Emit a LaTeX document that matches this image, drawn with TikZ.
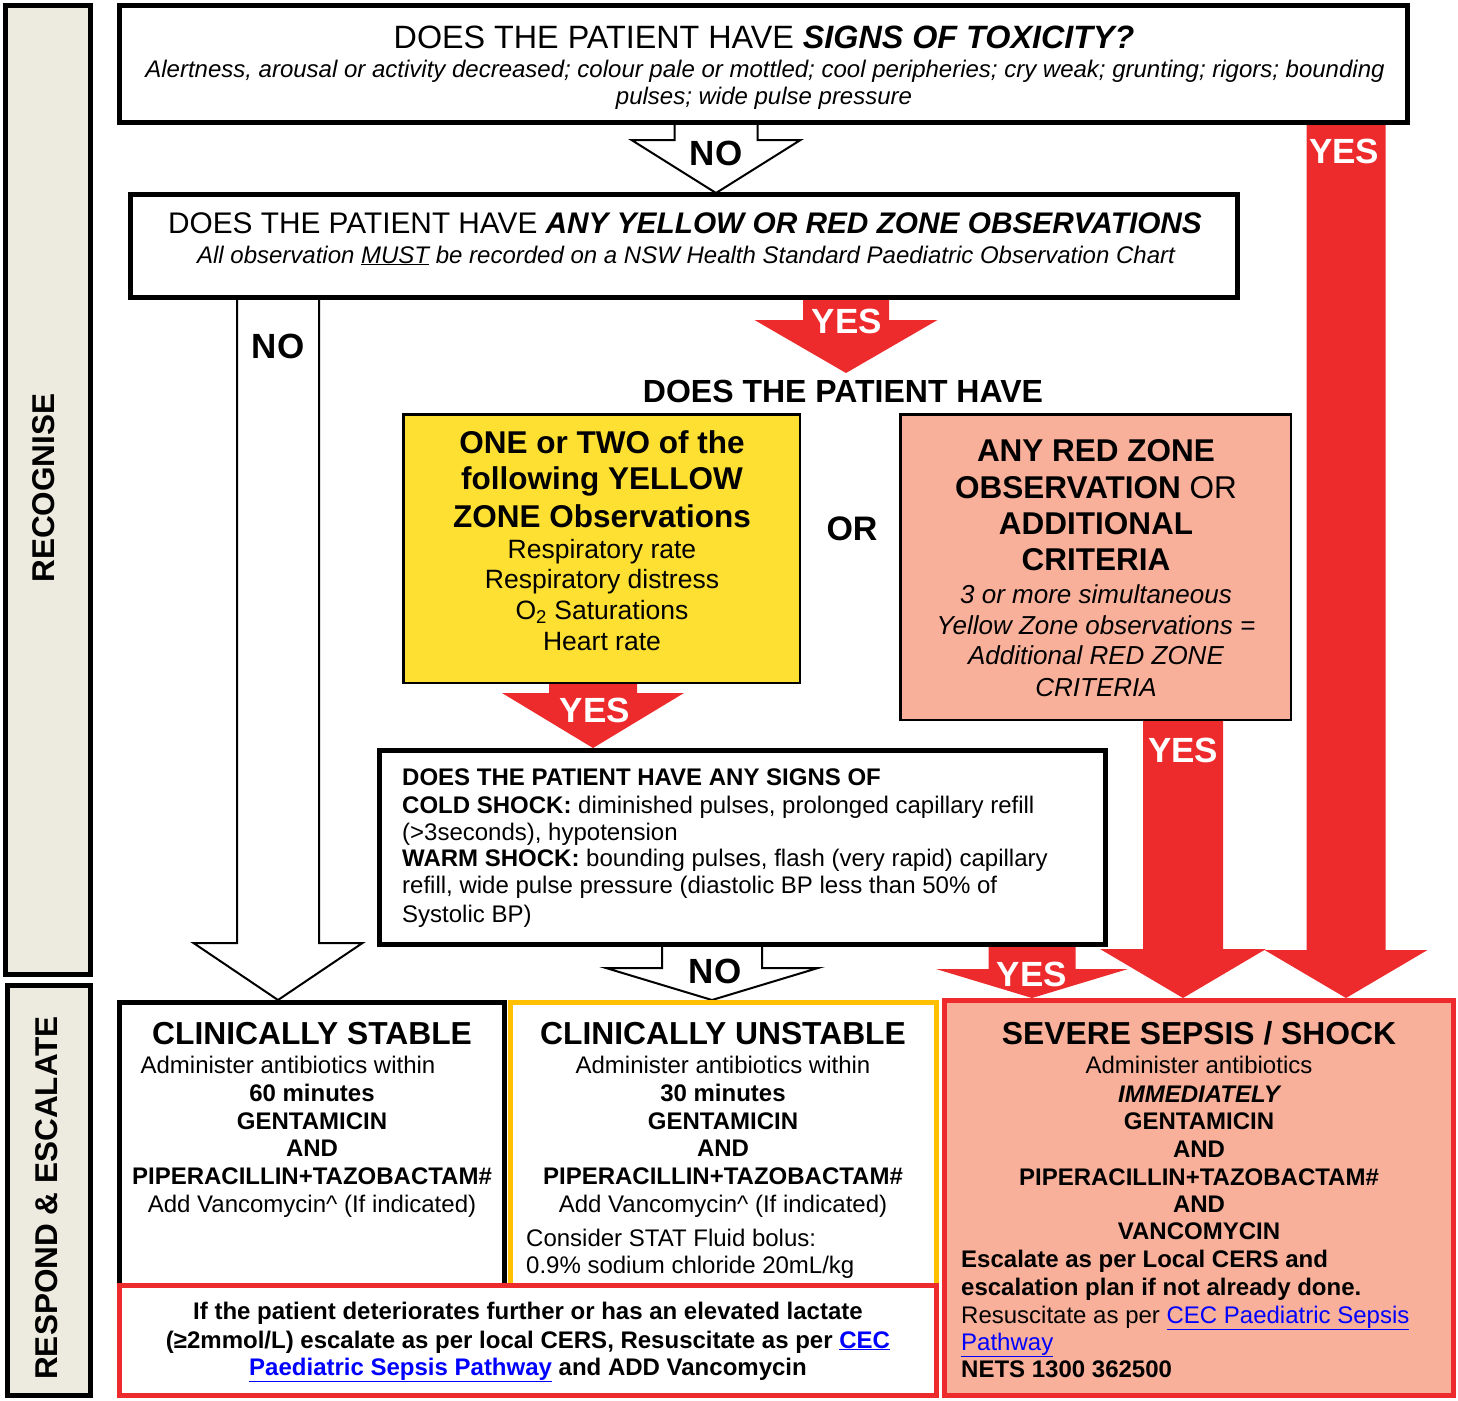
\documentclass[tikz,border=0pt]{standalone}
\usepackage{fontspec}
\setmainfont{Liberation Sans}
\definecolor{sidebeige}{RGB}{237,235,224}
\definecolor{alarmred}{RGB}{238,43,44}
\definecolor{zoneyellow}{RGB}{254,224,50}
\definecolor{zonesalmon}{RGB}{248,176,154}
\definecolor{unstableorange}{RGB}{255,192,0}
\definecolor{linkblue}{RGB}{0,0,255}
\newcommand{\fsz}[1]{\fontsize{#1}{#1}\selectfont}
\newcommand{\lnk}[1]{{\color{linkblue}\underline{#1}}}
\newcommand{\txtline}[5]{\node[#1] (#2) at (#3,#4) {#5};}
% style, x centre, y top, y head base, y tip, shaft half width, head half width
\newcommand{\blockarrow}[7]{%
  \path[#1] (#2-#6,#3) -- (#2-#6,#4) -- (#2-#7,#4) -- (#2,#5) -- (#2+#7,#4) -- (#2+#6,#4) -- (#2+#6,#3);}
\tikzset{
  box/.style={draw=black, line width=5pt, fill=white, inner sep=0pt},
  thinbox/.style={draw=black, line width=2.5pt, inner sep=0pt},
  sidebox/.style={draw=black, line width=5pt, fill=sidebeige, inner sep=0pt},
  tc/.style={anchor=base, inner sep=0pt},
  tw/.style={anchor=base west, inner sep=0pt},
  noarrow/.style={draw=black, line width=2pt, fill=white},
  yesarrow/.style={fill=alarmred},
  yeslbl/.style={anchor=base, inner sep=0pt, text=white, font=\fsz{35}\bfseries},
  nolbl/.style={anchor=base, inner sep=0pt, font=\fsz{35}\bfseries},
  sidelbl/.style={rotate=90, inner sep=0pt, font=\fsz{31.5}\bfseries},
}
\begin{document}
\begin{tikzpicture}[x=1pt,y=-1pt]
\useasboundingbox (0,0) rectangle (1458,1400);

% ---- side bars
\node[sidebox, minimum width=85pt, minimum height=969pt] (recog) at (48,490) {};
\node[sidebox, minimum width=83pt, minimum height=410pt] (respond) at (49,1190.5) {};
\node[sidelbl] (recogtxt) at (44,488) {RECOGNISE};
\node[sidelbl] (resptxt) at (47,1198) {RESPOND \& ESCALATE};

% ---- block arrows
\blockarrow{noarrow}{716}{123}{140}{193}{41.5}{84.5}
\blockarrow{noarrow}{278}{298}{943}{1000}{41}{84.5}
\blockarrow{noarrow}{712}{945}{968}{1000}{50}{106}
\blockarrow{yesarrow}{1346}{123}{950}{998}{39.5}{81.5}
\blockarrow{yesarrow}{846}{298}{320}{373}{43}{91.5}
\blockarrow{yesarrow}{593}{684}{693}{748}{44}{91}
\blockarrow{yesarrow}{1183}{719}{949}{998}{40}{83}
\blockarrow{yesarrow}{1032}{945}{969}{998}{43.5}{96}

% ---- boxes
\node[box, minimum width=1288pt, minimum height=117pt] (tox) at (763.5,64) {};
\node[box, minimum width=1107pt, minimum height=103pt] (obs) at (684,246) {};
\node[thinbox, fill=zoneyellow, minimum width=396.5pt, minimum height=268.5pt] (yellow) at (601.5,548.5) {};
\node[thinbox, fill=zonesalmon, minimum width=390.5pt, minimum height=305.5pt] (redzone) at (1095.5,567) {};
\node[box, minimum width=726pt, minimum height=194pt] (shock) at (742.5,847.5) {};
\node[box, minimum width=385pt, minimum height=285pt] (stable) at (312,1145) {};
\node[box, draw=unstableorange, minimum width=426pt, minimum height=285pt] (unstable) at (723.5,1145) {};
\node[box, draw=alarmred, minimum width=817pt, minimum height=110pt] (deteriorate) at (528,1340.5) {};
\node[box, draw=alarmred, fill=zonesalmon, minimum width=509pt, minimum height=395pt] (severe) at (1198.5,1198) {};

% ---- arrow labels
\node[nolbl] (no1) at (716,165) {NO};
\node[nolbl] (no2) at (278,358) {NO};
\node[nolbl] (no3) at (715,983) {NO};
\node[yeslbl] (yes1) at (1344,163) {YES};
\node[yeslbl] (yes2) at (847,333) {YES};
\node[yeslbl] (yes3) at (595,722) {YES};
\node[yeslbl] (yes4) at (1183,762) {YES};
\node[yeslbl] (yes5) at (1032,986) {YES};

% ---- toxicity box
\txtline{tc,font=\fsz{32.3}}{toxA}{764}{48}{DOES THE PATIENT HAVE \textbf{\textit{SIGNS OF TOXICITY?}}}
\txtline{tc,font=\fsz{24}\itshape}{toxB}{765}{77}{Alertness, arousal or activity decreased; colour pale or mottled; cool peripheries; cry weak; grunting; rigors; bounding}
\txtline{tc,font=\fsz{24}\itshape}{toxC}{764}{104}{pulses; wide pulse pressure}

% ---- observations box
\txtline{tc,font=\fsz{29.8}}{obsA}{685}{233}{DOES THE PATIENT HAVE \textbf{\textit{ANY YELLOW OR RED ZONE OBSERVATIONS}}}
\txtline{tc,font=\fsz{24}\itshape}{obsB}{686}{263}{All observation \underline{MUST} be recorded on a NSW Health Standard Paediatric Observation Chart}

\txtline{tc,font=\fsz{32}\bfseries}{haveq}{843}{402}{DOES THE PATIENT HAVE}
\txtline{tc,font=\fsz{34}\bfseries}{orlbl}{852}{540}{OR}

% ---- yellow zone
\txtline{tc,font=\fsz{31.5}\bfseries}{yA}{602}{453}{ONE or TWO of the}
\txtline{tc,font=\fsz{31.5}\bfseries}{yB}{602}{489}{following YELLOW}
\txtline{tc,font=\fsz{31.5}\bfseries}{yC}{602}{527}{ZONE Observations}
\txtline{tc,font=\fsz{26.5}}{yD}{602}{558}{Respiratory rate}
\txtline{tc,font=\fsz{26.5}}{yE}{602}{588}{Respiratory distress}
\txtline{tc,font=\fsz{26.5}}{yF}{602}{619}{O\textsubscript{2} Saturations}
\txtline{tc,font=\fsz{26.5}}{yG}{602}{650}{Heart rate}

% ---- red zone
\txtline{tc,font=\fsz{31.5}\bfseries}{rA}{1096}{461}{ANY RED ZONE}
\txtline{tc,font=\fsz{31.5}\bfseries}{rB}{1096}{498}{OBSERVATION \textmd{OR}}
\txtline{tc,font=\fsz{31.5}\bfseries}{rC}{1096}{534}{ADDITIONAL}
\txtline{tc,font=\fsz{31.5}\bfseries}{rD}{1096}{570}{CRITERIA}
\txtline{tc,font=\fsz{26}\itshape}{rE}{1096}{603}{3 or more simultaneous}
\txtline{tc,font=\fsz{26}\itshape}{rF}{1096}{634}{Yellow Zone observations =}
\txtline{tc,font=\fsz{26}\itshape}{rG}{1096}{664}{Additional RED ZONE}
\txtline{tc,font=\fsz{26}\itshape}{rH}{1096}{696}{CRITERIA}

% ---- shock question
\txtline{tw,font=\fsz{24}}{sA}{402}{785}{\textbf{DOES THE PATIENT HAVE ANY SIGNS OF}}
\txtline{tw,font=\fsz{24}}{sB}{402}{813}{\textbf{COLD SHOCK:} diminished pulses, prolonged capillary refill}
\txtline{tw,font=\fsz{24}}{sC}{402}{840}{(>3seconds), hypotension}
\txtline{tw,font=\fsz{24}}{sD}{402}{866}{\textbf{WARM SHOCK:} bounding pulses, flash (very rapid) capillary}
\txtline{tw,font=\fsz{24}}{sE}{402}{893}{refill, wide pulse pressure (diastolic BP less than 50\% of}
\txtline{tw,font=\fsz{24}}{sF}{402}{922}{Systolic BP)}

% ---- clinically stable
\txtline{tc,font=\fsz{31.8}\bfseries}{cA}{312}{1044}{CLINICALLY STABLE}
\txtline{tc,font=\fsz{24}}{cB}{288}{1073}{Administer antibiotics within}
\txtline{tc,font=\fsz{24}\bfseries}{cC}{312}{1101}{60 minutes}
\txtline{tc,font=\fsz{24}\bfseries}{cD}{312}{1129}{GENTAMICIN}
\txtline{tc,font=\fsz{24}\bfseries}{cE}{312}{1156}{AND}
\txtline{tc,font=\fsz{24}\bfseries}{cF}{312}{1184}{PIPERACILLIN+TAZOBACTAM\#}
\txtline{tc,font=\fsz{24}}{cG}{312}{1212}{Add Vancomycin\textasciicircum{} (If indicated)}

% ---- clinically unstable
\txtline{tc,font=\fsz{31.8}\bfseries}{uA}{723}{1044}{CLINICALLY UNSTABLE}
\txtline{tc,font=\fsz{24}}{uB}{723}{1073}{Administer antibiotics within}
\txtline{tc,font=\fsz{24}\bfseries}{uC}{723}{1101}{30 minutes}
\txtline{tc,font=\fsz{24}\bfseries}{uD}{723}{1129}{GENTAMICIN}
\txtline{tc,font=\fsz{24}\bfseries}{uE}{723}{1156}{AND}
\txtline{tc,font=\fsz{24}\bfseries}{uF}{723}{1184}{PIPERACILLIN+TAZOBACTAM\#}
\txtline{tc,font=\fsz{24}}{uG}{723}{1212}{Add Vancomycin\textasciicircum{} (If indicated)}
\txtline{tw,font=\fsz{24}}{uH}{526}{1246}{Consider STAT Fluid bolus:}
\txtline{tw,font=\fsz{24}}{uI}{526}{1273}{0.9\% sodium chloride 20mL/kg}

% ---- deterioration box
\txtline{tc,font=\fsz{24}\bfseries}{dA}{528}{1319}{If the patient deteriorates further or has an elevated lactate}
\txtline{tc,font=\fsz{24}\bfseries}{dB}{528}{1348}{(≥2mmol/L) escalate as per local CERS, Resuscitate as per \lnk{CEC}}
\txtline{tc,font=\fsz{24}\bfseries}{dC}{528}{1375}{\lnk{Paediatric Sepsis Pathway} and ADD Vancomycin}

% ---- severe sepsis
\txtline{tc,font=\fsz{31.8}\bfseries}{vA}{1199}{1044}{SEVERE SEPSIS / SHOCK}
\txtline{tc,font=\fsz{24}}{vB}{1199}{1073}{Administer antibiotics}
\txtline{tc,font=\fsz{24}\bfseries\itshape}{vC}{1199}{1102}{IMMEDIATELY}
\txtline{tc,font=\fsz{24}\bfseries}{vD}{1199}{1129}{GENTAMICIN}
\txtline{tc,font=\fsz{24}\bfseries}{vE}{1199}{1157}{AND}
\txtline{tc,font=\fsz{24}\bfseries}{vF}{1199}{1185}{PIPERACILLIN+TAZOBACTAM\#}
\txtline{tc,font=\fsz{24}\bfseries}{vG}{1199}{1212}{AND}
\txtline{tc,font=\fsz{24}\bfseries}{vH}{1199}{1239}{VANCOMYCIN}
\txtline{tw,font=\fsz{24}\bfseries}{vI}{961}{1267}{Escalate as per Local CERS and}
\txtline{tw,font=\fsz{24}\bfseries}{vJ}{961}{1295}{escalation plan if not already done.}
\txtline{tw,font=\fsz{24}}{vK}{961}{1323}{Resuscitate as per \lnk{CEC Paediatric Sepsis}}
\txtline{tw,font=\fsz{24}}{vL}{961}{1350}{\lnk{Pathway}}
\txtline{tw,font=\fsz{24}\bfseries}{vM}{961}{1377}{NETS 1300 362500}
\end{tikzpicture}
\end{document}
